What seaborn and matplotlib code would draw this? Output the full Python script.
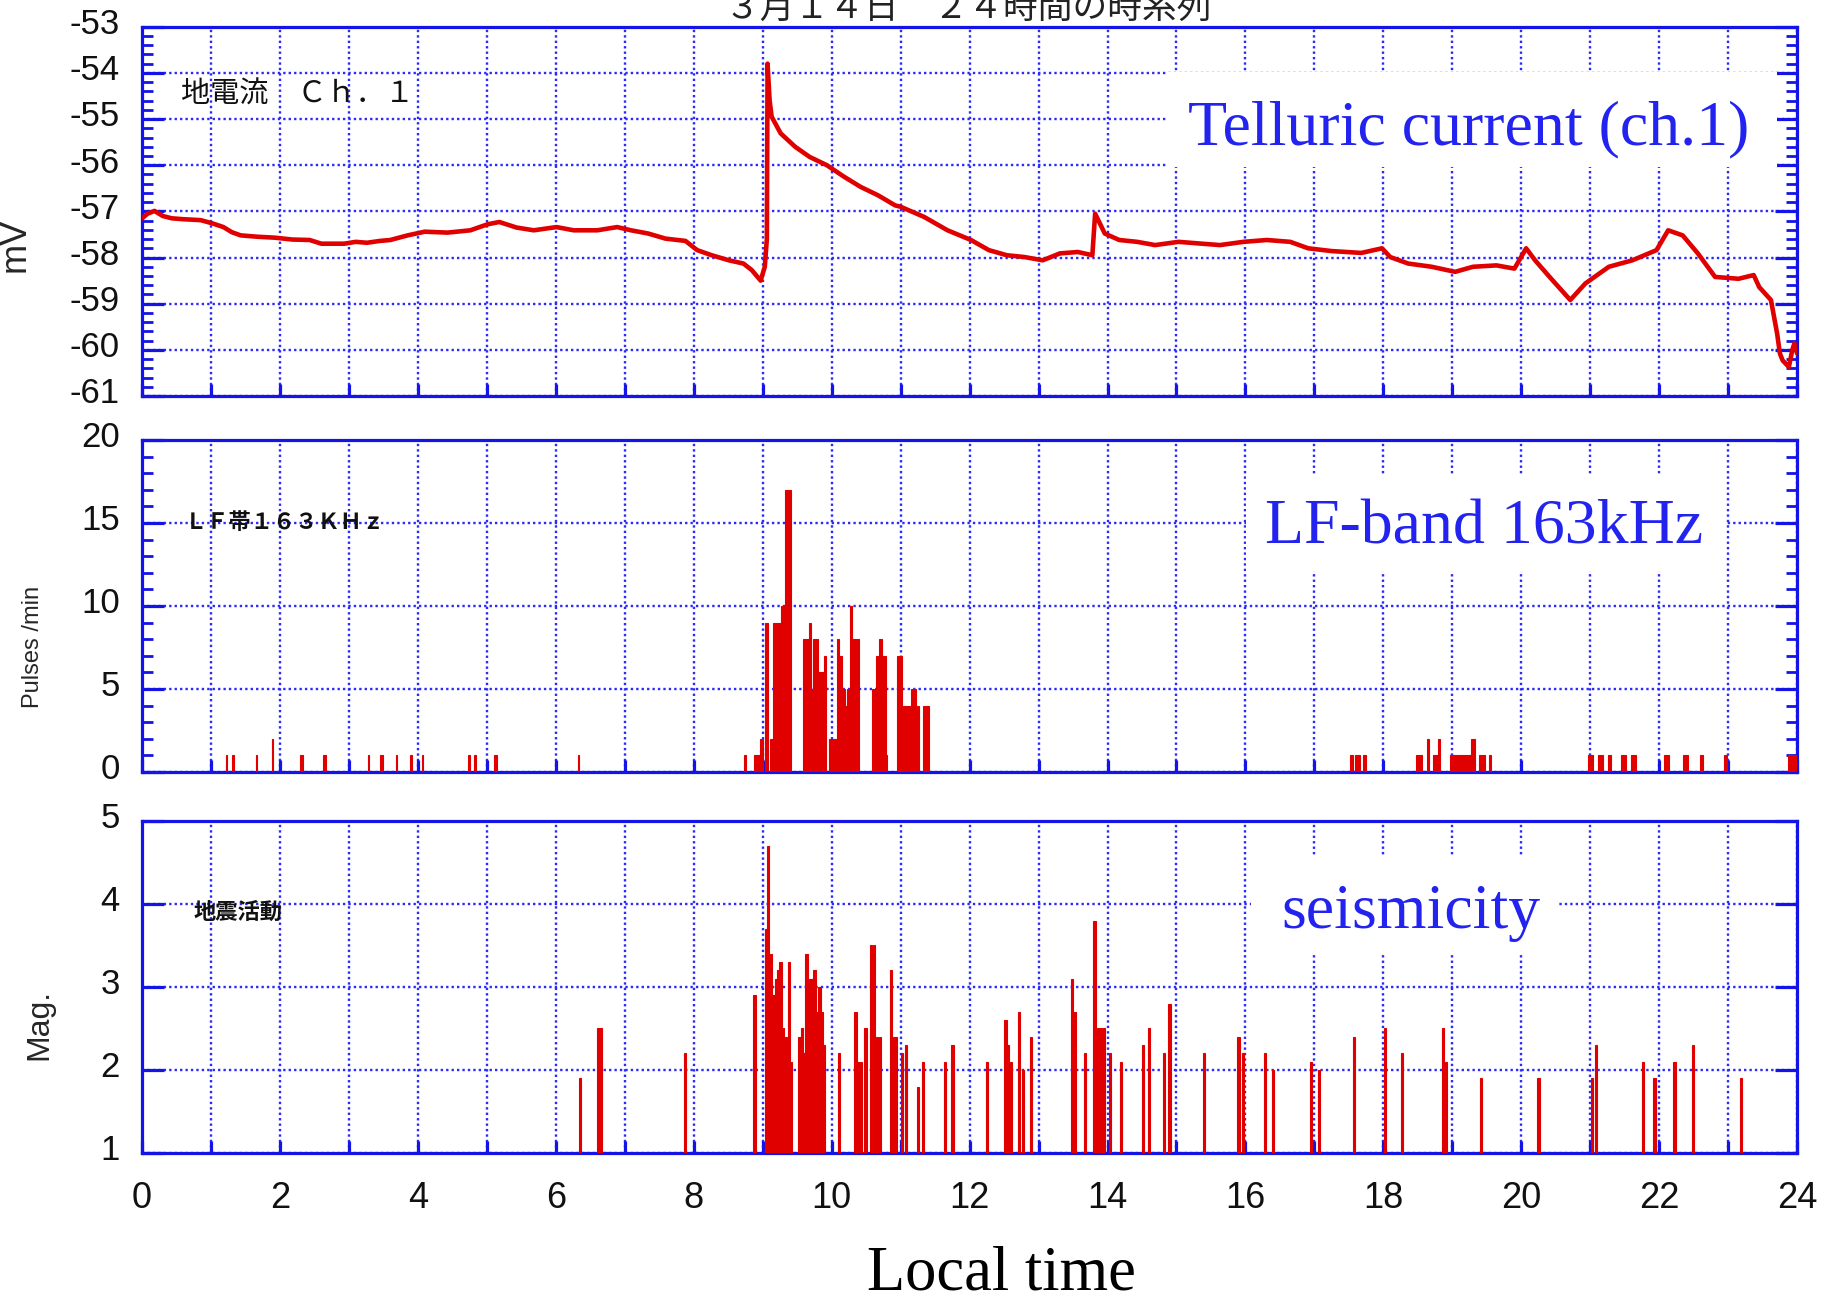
import numpy as np
import pandas as pd
import matplotlib
matplotlib.use("Agg")
import matplotlib.pyplot as plt
import matplotlib.ticker as mticker
import matplotlib.transforms as mtransforms
from matplotlib.patches import Rectangle
from matplotlib import font_manager
import seaborn as sns

# ---------------- data ----------------
tel_time = [0.00, 0.08, 0.18, 0.30, 0.43, 0.60, 0.85, 1.02, 1.18, 1.30, 1.43, 1.68, 1.93,
            2.18, 2.43, 2.60, 2.93, 3.10, 3.26, 3.45, 3.60, 3.85, 4.10, 4.43, 4.76, 5.01,
            5.18, 5.43, 5.68, 6.01, 6.26, 6.60, 6.89, 7.09, 7.34, 7.59, 7.88, 8.05, 8.26,
            8.51, 8.72, 8.84, 8.97, 9.03, 9.06, 9.07, 9.10, 9.13, 9.26, 9.47, 9.68, 9.93,
            10.18, 10.42, 10.67, 10.92, 11.00, 11.34, 11.68, 12.02, 12.28, 12.54, 12.80,
            13.06, 13.31, 13.57, 13.78, 13.82, 13.96, 14.17, 14.43, 14.69, 15.03, 15.37,
            15.63, 15.97, 16.31, 16.65, 16.91, 17.25, 17.68, 17.98, 18.10, 18.36, 18.70,
            19.04, 19.30, 19.64, 19.90, 20.07, 20.20, 20.41, 20.71, 20.93, 21.27, 21.61,
            21.96, 22.13, 22.34, 22.56, 22.81, 23.15, 23.37, 23.45, 23.62, 23.71, 23.75,
            23.79, 23.88, 23.93, 23.96, 24.00]
tel_mv = [-57.15, -57.05, -56.99, -57.10, -57.15, -57.17, -57.19, -57.26, -57.34, -57.45,
          -57.52, -57.55, -57.57, -57.61, -57.62, -57.70, -57.70, -57.66, -57.68, -57.64,
          -57.62, -57.52, -57.44, -57.46, -57.41, -57.28, -57.23, -57.35, -57.41, -57.34,
          -57.41, -57.41, -57.34, -57.41, -57.48, -57.59, -57.64, -57.84, -57.95, -58.06,
          -58.13, -58.27, -58.50, -58.20, -57.60, -53.80, -54.60, -54.95, -55.31, -55.60,
          -55.82, -56.00, -56.25, -56.47, -56.65, -56.87, -56.90, -57.12, -57.41, -57.62,
          -57.84, -57.95, -57.99, -58.06, -57.91, -57.88, -57.95, -57.05, -57.48, -57.62,
          -57.66, -57.73, -57.66, -57.70, -57.73, -57.66, -57.62, -57.66, -57.80, -57.86,
          -57.90, -57.80, -57.99, -58.13, -58.20, -58.31, -58.20, -58.17, -58.24, -57.80,
          -58.06, -58.42, -58.92, -58.56, -58.20, -58.06, -57.84, -57.41, -57.52, -57.91,
          -58.42, -58.46, -58.38, -58.64, -58.92, -59.65, -60.08, -60.23, -60.37, -60.00,
          -59.86, -60.08]

lf_start = [1.21, 1.31, 1.65, 1.88, 2.29, 2.63, 3.27, 3.45, 3.68, 3.89, 4.06, 4.73, 4.82,
            5.10, 6.32,
            8.735, 8.88, 8.967, 9.03, 9.103, 9.151, 9.258, 9.330, 9.586, 9.669, 9.693,
            9.732, 9.799, 9.886, 9.968, 10.07, 10.104, 10.152, 10.186, 10.225, 10.264,
            10.298, 10.588, 10.636, 10.684, 10.733, 10.781, 10.95, 11.023, 11.144, 11.217,
            11.328,
            17.518, 17.59, 17.707, 18.48, 18.63, 18.713, 18.785, 18.969, 19.037, 19.269,
            19.38, 19.525, 20.972, 21.117, 21.262, 21.446, 21.591, 22.075, 22.34, 22.597,
            22.936, 23.864]
lf_end = [1.23, 1.33, 1.67, 1.90, 2.33, 2.67, 3.29, 3.49, 3.70, 3.91, 4.08, 4.75, 4.84,
          5.14, 6.34,
          8.764, 8.967, 9.006, 9.074, 9.151, 9.258, 9.330, 9.403, 9.669, 9.693, 9.732,
          9.799, 9.886, 9.920, 10.07, 10.104, 10.152, 10.186, 10.225, 10.264, 10.298,
          10.394, 10.636, 10.684, 10.733, 10.781, 10.805, 11.023, 11.144, 11.217, 11.265,
          11.41,
          17.566, 17.663, 17.745, 18.553, 18.664, 18.785, 18.814, 19.037, 19.269, 19.327,
          19.472, 19.559, 21.035, 21.19, 21.301, 21.518, 21.663, 22.147, 22.413, 22.631,
          22.98, 24.0]
lf_pulses = [1, 1, 1, 2, 1, 1, 1, 1, 1, 1, 1, 1, 1, 1, 1,
             1, 1, 2, 9, 2, 9, 10, 17, 8, 9, 5, 8, 6, 7, 2, 8, 7, 5, 4, 5, 10, 8, 5, 7, 8,
             7, 1, 7, 4, 5, 4, 4,
             1, 1, 1, 1, 2, 1, 2, 1, 1, 2, 1, 1, 1, 1, 1, 1, 1, 1, 1, 1, 1, 1]

eq_time = [6.35, 6.62, 6.66, 7.87, 8.88, 9.045, 9.079, 9.117, 9.156, 9.19, 9.219, 9.258,
           9.296, 9.34, 9.383, 9.412, 9.533, 9.572, 9.601, 9.635, 9.68, 9.71, 9.751, 9.79,
           9.823, 9.857, 9.891, 10.104, 10.346, 10.38, 10.42, 10.491, 10.57, 10.61, 10.66,
           10.70, 10.859, 10.90, 10.93, 11.023, 11.076, 11.255, 11.323, 11.642, 11.753,
           12.25, 12.52, 12.56, 12.60, 12.72, 12.78, 12.89, 13.48, 13.52, 13.67, 13.81,
           13.86, 13.91, 13.95, 14.04, 14.19, 14.52, 14.60, 14.82, 14.90, 15.40, 15.90,
           15.97, 16.28, 16.40, 16.95, 17.07, 17.57, 18.02, 18.27, 18.87, 18.90, 19.41,
           20.25, 21.02, 21.08, 21.77, 21.93, 22.22, 22.49, 23.19]
eq_mag = [1.9, 2.5, 2.5, 2.2, 2.9, 3.7, 4.7, 3.4, 2.9, 3.1, 3.2, 3.3, 2.5, 2.4, 3.3, 2.1,
          2.4, 2.5, 2.2, 3.4, 3.1, 3.1, 3.2, 2.7, 3.0, 2.7, 2.3, 2.2, 2.7, 2.1, 2.1, 2.5,
          3.5, 3.5, 2.4, 2.4, 3.2, 2.4, 2.4, 2.2, 2.3, 1.8, 2.1, 2.1, 2.3, 2.1, 2.6, 2.3,
          2.1, 2.7, 2.0, 2.4, 3.1, 2.7, 2.2, 3.8, 2.5, 2.5, 2.5, 2.2, 2.1, 2.3, 2.5, 2.2,
          2.8, 2.2, 2.4, 2.2, 2.2, 2.0, 2.1, 2.0, 2.4, 2.5, 2.2, 2.5, 2.1, 1.9, 1.9, 1.9,
          2.3, 2.1, 1.9, 2.1, 2.3, 1.9]

hour_ticks = list(range(0, 25))
hour_labels = [str(h) if h % 2 == 0 else "" for h in hour_ticks]
mv_ticks = [-61, -60, -59, -58, -57, -56, -55, -54, -53]
lf_ticks = [0, 5, 10, 15, 20]
mag_ticks = [1, 2, 3, 4, 5]

title_text = "３月１４日　２４時間の時系列"
ch1_text = "地電流　Ｃｈ．１"
lf_jp_text = "ＬＦ帯１６３ＫＨｚ"
eq_jp_text = "地震活動"

# ---------------- style ----------------
sns.set_theme(style="white")
names = {f.name for f in font_manager.fontManager.ttflist}
NUM = "Liberation Sans Narrow" if "Liberation Sans Narrow" in names else "Liberation Sans"
SERIF = "Liberation Serif"
CJK = "Noto Sans CJK JP"
plt.rcParams["font.family"] = [NUM, "DejaVu Sans"]

BLUE = "#1414e6"
GRIDC = "#2a2aff"
RED = "#e00000"
TXTBLUE = "#2323f0"

fig = plt.figure(figsize=(18.26, 13.04), dpi=100)
L, W = 0.0778, 0.9064
ax1 = fig.add_axes([L, 0.6963, W, 0.2832])
ax2 = fig.add_axes([L, 0.4080, W, 0.2546])
ax3 = fig.add_axes([L, 0.1158, W, 0.2546])

tel_df = pd.DataFrame({"t": tel_time, "mv": tel_mv})
sns.lineplot(data=tel_df, x="t", y="mv", ax=ax1, color=RED, linewidth=3.3,
             estimator=None, sort=False, zorder=3)

lf_s = np.array(lf_start)
lf_e = np.array(lf_end)
ax2.bar(lf_s, lf_pulses, width=lf_e - lf_s, bottom=0, align="edge",
        color=RED, edgecolor=RED, linewidth=0.8, zorder=3)

ax3.bar(eq_time, np.array(eq_mag) - 1, bottom=1, width=0.032, align="center",
        color=RED, edgecolor=RED, linewidth=0.8, zorder=3)

offset = mtransforms.ScaledTranslation(0, 4 / 72, fig.dpi_scale_trans)

def style_axis(ax, ylim, yticks, minor_step, show_x):
    ax.set_xlim(0, 24)
    ax.set_ylim(*ylim)
    ax.set_axisbelow(True)
    ax.xaxis.set_major_locator(mticker.FixedLocator(hour_ticks))
    ax.xaxis.set_major_formatter(mticker.FixedFormatter(hour_labels))
    ax.yaxis.set_major_locator(mticker.FixedLocator(yticks))
    ax.yaxis.set_major_formatter(mticker.FixedFormatter([str(v) for v in yticks]))
    if minor_step:
        ax.yaxis.set_minor_locator(mticker.MultipleLocator(minor_step))
    else:
        ax.yaxis.set_minor_locator(mticker.NullLocator())
    ax.grid(True, which="major", color=GRIDC, linestyle=(0, (1, 1.3)), linewidth=1.7)
    ax.grid(False, which="minor")
    for sp in ax.spines.values():
        sp.set_color(BLUE)
        sp.set_linewidth(2.3)
        sp.set_visible(True)
    ax.tick_params(axis="y", which="major", direction="in", left=True, right=True,
                   length=16, width=2.3, color=BLUE, labelsize=25, pad=16,
                   labelcolor="#111111")
    ax.tick_params(axis="y", which="minor", direction="in", left=True, right=True,
                   length=8, width=2.0, color=BLUE)
    ax.tick_params(axis="x", which="major", direction="in", bottom=True, top=False,
                   length=9, width=2.3, color=BLUE, labelsize=26, pad=20,
                   labelbottom=show_x, labelcolor="#111111")
    ax.set_xlabel("")
    ax.set_ylabel("")
    for lab in ax.get_yticklabels():
        lab.set_transform(lab.get_transform() + offset)

style_axis(ax1, (-61, -53), mv_ticks, 0.2, False)
style_axis(ax2, (0, 20), lf_ticks, 1, False)
style_axis(ax3, (1, 5), mag_ticks, None, True)

# axis labels
ax1.set_ylabel("mV", fontsize=26, family=[NUM, "DejaVu Sans"])
ax1.yaxis.set_label_coords(-0.066, 0.41)
ax2.set_ylabel("Pulses /min", fontsize=17, family=[NUM, "DejaVu Sans"])
ax2.yaxis.set_label_coords(-0.059, 0.377)
ax3.set_ylabel("Mag.", fontsize=23, family=[NUM, "DejaVu Sans"])
ax3.yaxis.set_label_coords(-0.053, 0.386)

# Japanese panel labels
ax1.text(0.56, -54.47, ch1_text, fontsize=21, family=[CJK, "DejaVu Sans"],
         ha="left", va="center", color="#111111", zorder=4)
ax2.text(0.62, 15.0, lf_jp_text, fontsize=16, family=[CJK, "DejaVu Sans"],
         fontweight="bold", ha="left", va="center", color="#111111", zorder=4)
ax3.text(0.74, 3.9, eq_jp_text, fontsize=16, family=[CJK, "DejaVu Sans"],
         fontweight="bold", ha="left", va="center", color="#111111", zorder=4)

# white boxes with English annotations
ax1.add_patch(Rectangle((0.619, 0.621), 0.369, 0.257, transform=ax1.transAxes,
                        facecolor="white", edgecolor="none", zorder=1))
ax1.text(0.8015, 0.682, "Telluric current (ch.1)", transform=ax1.transAxes,
         fontsize=46, family=[SERIF], color=TXTBLUE, ha="center", va="baseline", zorder=4)
ax2.add_patch(Rectangle((0.667, 0.606), 0.290, 0.290, transform=ax2.transAxes,
                        facecolor="white", edgecolor="none", zorder=1))
ax2.text(0.8107, 0.687, "LF-band 163kHz", transform=ax2.transAxes,
         fontsize=46, family=[SERIF], color=TXTBLUE, ha="center", va="baseline", zorder=4)
ax3.add_patch(Rectangle((0.670, 0.602), 0.186, 0.291, transform=ax3.transAxes,
                        facecolor="white", edgecolor="none", zorder=1))
ax3.text(0.7667, 0.677, "seismicity", transform=ax3.transAxes,
         fontsize=46, family=[SERIF], color=TXTBLUE, ha="center", va="baseline", zorder=4)

fig.text(0.530, 0.9935, title_text, fontsize=25, family=[CJK, "DejaVu Sans"],
         ha="center", va="center", color="#222222")
fig.text(0.5485, 0.011, "Local time", fontsize=45, family=[SERIF],
         ha="center", va="baseline", color="black")

fig.savefig("out.png", dpi=100, facecolor="white")
